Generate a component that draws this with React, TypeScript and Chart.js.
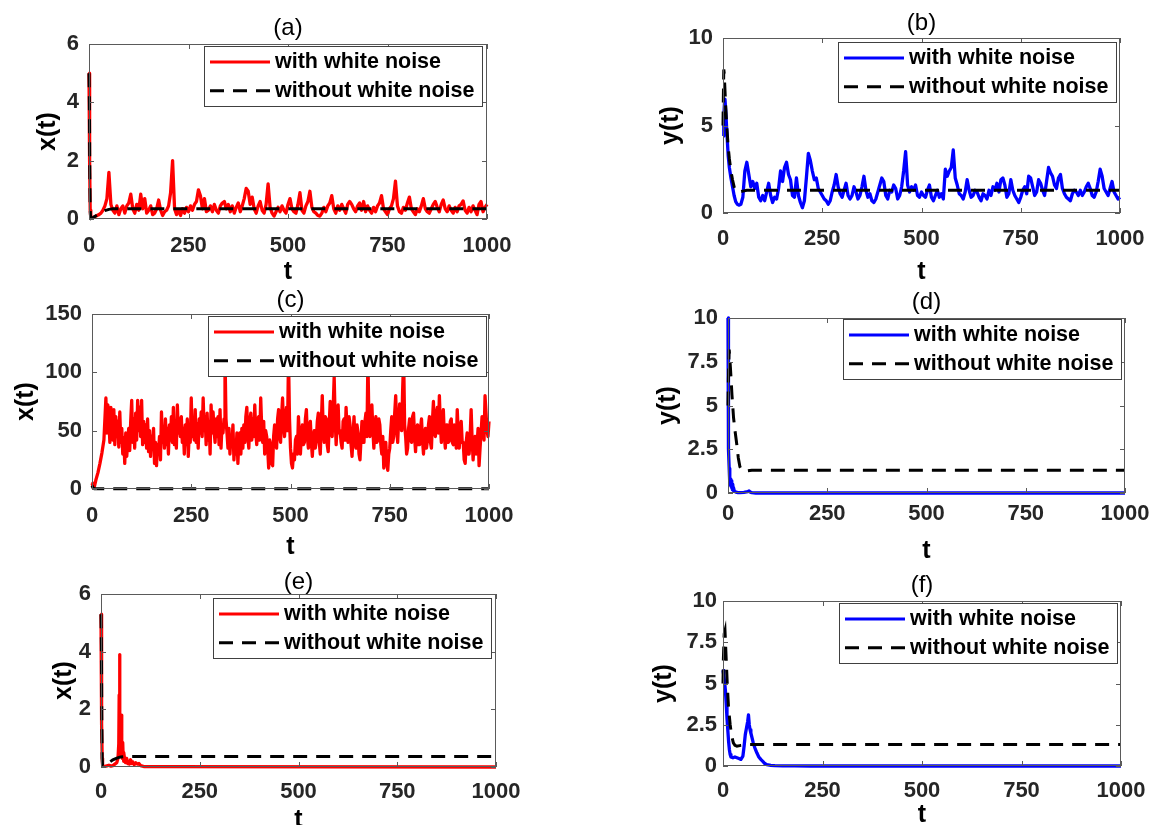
import React, { useEffect, useRef } from 'react';
import { Chart, registerables } from 'chart.js';

Chart.register(...registerables);

const FONT_FAMILY = '"Liberation Sans", Arial, Helvetica, sans-serif';

// ---------- shared labels ----------
const X_TICKS = [0, 250, 500, 750, 1000];
const LEGEND_LABELS = ['with white noise', 'without white noise'];
const PANEL_TITLES = ['(a)', '(b)', '(c)', '(d)', '(e)', '(f)'];
const Y_LABELS = ['x(t)', 'y(t)', 'x(t)', 'y(t)', 'x(t)', 'y(t)'];
const X_LABEL = 't';

const Y_TICKS_A = [0, 2, 4, 6];
const Y_TICKS_B = [0, 5, 10];
const Y_TICKS_C = [0, 50, 100, 150];
const Y_TICKS_D = [0, 2.5, 5, 7.5, 10];
const Y_TICKS_E = [0, 2, 4, 6];
const Y_TICKS_F = [0, 2.5, 5, 7.5, 10];

// ---------- panel (a) ----------
const A_DET_T = [0, 1, 2, 3, 4, 5, 10, 20, 30, 40, 50, 60, 1000];
const A_DET_V = [5.0, 4.0, 1.6, 0.3, 0.05, 0.02, 0.05, 0.13, 0.22, 0.29, 0.33, 0.35, 0.35];
const A_NOISE_HEAD_T = [0, 1, 2, 3, 4, 5];
const A_NOISE_HEAD_V = [5.0, 4.6, 2.0, 0.3, 0.05, 0.03];
const A_NOISE_BODY_START = 10;
const A_NOISE_BODY_STEP = 5;
const A_NOISE_BODY_V = [
  0.05, 0.08, 0.12, 0.15, 0.2, 0.3, 0.45, 0.7, 1.6, 0.5,
  0.3, 0.2, 0.45, 0.15, 0.35, 0.45, 0.2, 0.45, 0.55, 0.85,
  0.35, 0.2, 0.5, 0.3, 0.85, 0.35, 0.7, 0.2, 0.3, 0.45,
  0.15, 0.2, 0.35, 0.65, 0.3, 0.12, 0.25, 0.3, 0.45, 0.9,
  2.0, 0.35, 0.15, 0.3, 0.12, 0.35, 0.2, 0.4, 0.25, 0.45,
  0.3, 0.5, 0.6, 1.0, 0.8, 0.35, 0.7, 0.25, 0.3, 0.45,
  0.25, 0.5, 0.3, 0.2, 0.45, 0.55, 0.6, 0.35, 0.5, 0.25,
  0.45, 0.2, 0.4, 0.55, 0.25, 0.45, 0.7, 1.05, 0.95, 0.5,
  0.75, 0.35, 0.2, 0.45, 0.6, 0.3, 0.2, 0.5, 1.2, 0.4,
  0.2, 0.1, 0.25, 0.4, 0.25, 0.45, 0.3, 0.2, 0.5, 0.7,
  0.35, 0.25, 0.2, 0.5, 0.9, 0.3, 0.2, 0.45, 0.6, 0.95,
  0.4, 0.25, 0.2, 0.12, 0.1, 0.2, 0.4, 0.25, 0.45, 0.55,
  0.8, 0.35, 0.2, 0.45, 0.3, 0.5, 0.35, 0.2, 0.5, 0.6,
  0.5, 0.35, 0.25, 0.45, 0.55, 0.3, 0.6, 0.25, 0.45, 0.3,
  0.2, 0.4, 0.25, 0.45, 0.55, 0.8, 0.35, 0.25, 0.15, 0.35,
  0.45, 0.7, 1.3, 0.45, 0.25, 0.2, 0.4, 0.3, 0.55, 0.75,
  0.35, 0.25, 0.15, 0.35, 0.25, 0.45, 0.7, 0.35, 0.25, 0.2,
  0.35, 0.5, 0.6, 0.4, 0.25, 0.5, 0.65, 0.35, 0.25, 0.45,
  0.3, 0.2, 0.4, 0.25, 0.45, 0.5, 0.62, 0.3, 0.2, 0.4,
  0.25, 0.45, 0.3, 0.15, 0.5, 0.6, 0.25, 0.4, 0.5,
];

// ---------- panel (b) ----------
const B_DET_T = [0, 1, 2, 3, 5, 7, 10, 13, 16, 20, 24, 28, 32, 36, 40, 50, 60, 1000];
const B_DET_V = [5.0, 6.8, 8.2, 8.0, 7.0, 6.0, 4.8, 3.8, 3.1, 2.4, 1.9, 1.5, 1.3, 1.2, 1.2, 1.25, 1.3, 1.3];
const B_NOISE_HEAD_T = [0, 2, 4, 5, 7, 10, 13, 16, 20, 24, 28, 32, 36, 40, 45, 50];
const B_NOISE_HEAD_V = [4.4, 5.5, 6.4, 6.5, 5.8, 4.5, 3.3, 2.6, 2.0, 1.5, 1.0, 0.65, 0.5, 0.45, 0.5, 0.9];
const B_NOISE_BODY_START = 55;
const B_NOISE_BODY_STEP = 5;
const B_NOISE_BODY_V = [
  2.4, 2.9, 2.2, 1.5, 1.8, 1.4, 1.7, 0.9, 0.7, 1.0,
  0.7, 1.2, 1.7, 1.0, 0.6, 0.9, 0.8, 1.4, 2.4, 1.8,
  2.6, 2.9, 2.2, 1.9, 1.0, 0.9, 2.0, 1.0, 0.6, 0.3,
  0.7, 2.0, 3.4, 3.0, 2.4, 1.9, 2.0, 1.4, 1.2, 1.0,
  0.8, 0.7, 0.5, 0.7, 1.2, 1.6, 2.2, 1.5, 1.1, 0.9,
  1.3, 1.7, 1.0, 0.8, 1.0, 1.5, 1.2, 0.8, 1.0, 1.5,
  2.1, 1.3, 0.9, 1.1, 0.7, 0.6, 0.8, 1.2, 1.6, 2.0,
  1.8, 1.0, 0.8, 1.3, 1.2, 1.6, 1.4, 0.8, 1.0, 1.5,
  2.4, 3.5, 1.6, 1.2, 1.5, 1.3, 1.6, 1.0, 0.9, 1.2,
  1.0, 0.9, 1.3, 1.6, 0.9, 0.7, 1.0, 1.3, 0.9, 1.1,
  0.8, 2.5, 2.1, 2.4, 2.6, 3.6, 2.0, 1.6, 1.1, 1.0,
  0.8, 1.2, 1.9, 1.3, 0.9, 1.0, 1.3, 1.2, 0.9, 0.7,
  1.1, 1.0, 0.8, 1.3, 1.0, 1.5, 1.3, 1.7, 1.2, 1.9,
  2.0, 1.6, 0.9, 1.1, 1.9, 1.3, 1.0, 0.8, 0.6, 0.9,
  1.3, 1.5, 1.1, 2.1, 2.0, 1.5, 1.0, 1.2, 1.9, 1.7,
  1.3, 1.0, 1.8, 2.6, 2.3, 2.1, 1.6, 1.4, 2.0, 2.2,
  1.4, 1.1, 0.9, 0.8, 0.7, 1.1, 1.3, 1.2, 1.0, 1.3,
  1.0, 1.2, 1.5, 1.7, 1.4, 1.0, 0.9, 1.2, 1.8, 2.5,
  2.1, 1.4, 1.2, 1.0, 1.4, 1.8, 1.2, 1.0, 0.8, 0.9,
];

// ---------- panel (c) ----------
const C_DET_T = [0, 3, 6, 1000];
const C_DET_V = [3, 0.8, 0.3, 0.3];
const C_NOISE_HEAD_T = [0, 2, 4, 6, 10, 15, 20, 25, 30];
const C_NOISE_HEAD_V = [5, 3, 0.5, 2, 8, 14, 22, 31, 42];
const C_NOISE_BODY_START = 35;
const C_NOISE_BODY_STEP = 2.5;
const C_NOISE_BODY_V = [
  78, 48, 72, 60, 40, 70, 55, 42, 68, 38,
  62, 45, 58, 36, 66, 40, 52, 30, 44, 22,
  48, 28, 40, 52, 33, 58, 76, 40, 60, 35,
  65, 42, 76, 50, 70, 45, 76, 38, 58, 40,
  55, 35, 60, 32, 50, 28, 45, 35, 52, 22,
  40, 20, 38, 30, 45, 25, 66, 40, 50, 35,
  60, 38, 52, 30, 55, 42, 62, 40, 70, 38,
  58, 35, 72, 48, 60, 45, 62, 40, 52, 30,
  55, 38, 60, 28, 48, 40, 78, 45, 60, 42,
  68, 40, 56, 35, 60, 48, 66, 45, 78, 50,
  62, 38, 65, 42, 58, 30, 72, 48, 66, 50,
  40, 60, 45, 62, 38, 68, 35, 55, 48, 60,
  115, 60, 48, 35, 52, 30, 45, 38, 55, 25,
  40, 30, 48, 22, 42, 48, 30, 52, 35, 55,
  40, 62, 70, 45, 35, 58, 65, 42, 60, 45,
  72, 48, 38, 60, 62, 42, 78, 52, 40, 58,
  30, 50, 45, 35, 18, 42, 38, 22, 20, 45,
  55, 38, 35, 60, 68, 45, 40, 62, 78, 55,
  45, 62, 70, 50, 112, 60, 35, 22, 18, 30,
  25, 42, 45, 30, 62, 45, 30, 48, 55, 38,
  40, 60, 68, 45, 35, 55, 58, 40, 28, 45,
  50, 35, 42, 58, 65, 40, 30, 55, 80, 50,
  40, 62, 60, 38, 32, 55, 75, 48, 45, 70,
  96, 60, 38, 55, 72, 48, 50, 40, 35, 58,
  60, 42, 70, 50, 40, 62, 55, 38, 28, 45,
  62, 40, 35, 55, 48, 30, 25, 42, 58, 40,
  40, 58, 65, 45, 110, 60, 45, 62, 72, 50,
  35, 55, 62, 40, 42, 60, 55, 38, 30, 45,
  18, 35, 40, 22, 16, 30, 35, 50, 62, 40,
  45, 65, 80, 52, 40, 60, 73, 55, 50, 85,
  112, 55, 45, 30, 35, 52, 60, 42, 40, 62,
  65, 45, 32, 50, 55, 38, 38, 52, 60, 42,
  30, 48, 52, 35, 42, 55, 62, 40, 35, 58,
  75, 50, 45, 65, 70, 48, 80, 55, 40, 62,
  68, 45, 35, 55, 55, 40, 42, 58, 60, 40,
  38, 55, 50, 35, 68, 48, 35, 50, 58, 40,
  40, 25, 22, 40, 48, 30, 30, 45, 68, 42,
  25, 40, 45, 30, 38, 52, 20, 35, 48, 62,
  60, 42, 80, 65, 50, 45, 58,
];

// ---------- panel (d) ----------
const D_DET_T = [0, 1, 3, 6, 10, 14, 18, 22, 26, 30, 35, 45, 60, 1000];
const D_DET_V = [5.0, 6.5, 8.2, 7.2, 5.6, 4.3, 3.5, 2.8, 2.0, 1.5, 1.3, 1.25, 1.3, 1.3];
const D_NOISE_T = [0, 0.5, 1, 2, 3, 4, 5, 6, 7, 8, 9, 10, 11, 12, 13, 14, 16, 20, 25, 30, 40, 50, 53, 56, 60, 70, 1000];
const D_NOISE_V = [10, 8, 5, 2.5, 1.4, 0.8, 0.5, 0.8, 0.4, 0.7, 0.3, 0.6, 0.2, 0.5, 0.15, 0.3, 0.1, 0.05, 0.02, 0.02, 0.04, 0.08, 0.12, 0.05, 0.02, 0, 0];

// ---------- panel (e) ----------
const E_DET_T = [0, 1, 2, 3, 4, 6, 10, 20, 30, 40, 50, 60, 1000];
const E_DET_V = [5.3, 4.2, 1.8, 0.3, 0.05, 0.02, 0.05, 0.15, 0.25, 0.31, 0.35, 0.36, 0.36];
const E_NOISE_T = [
  0, 1, 2, 3, 4, 6, 10, 15, 20, 25, 30, 35, 40, 43, 45, 46, 47, 48, 50, 51,
  52, 53, 54, 55, 56, 57, 58, 60, 62, 65, 68, 70, 72, 75, 78, 80, 84, 88, 92, 96,
  100, 105, 110, 1000,
];
const E_NOISE_V = [
  5.3, 4.0, 1.5, 0.3, 0.06, 0.03, 0.02, 0.04, 0.06, 0.03, 0.05, 0.1, 0.15, 0.3, 0.8, 2.5, 3.9, 1.2, 0.4, 0.9,
  1.8, 0.6, 0.3, 0.85, 0.4, 0.2, 0.5, 0.25, 0.15, 0.3, 0.12, 0.2, 0.1, 0.25, 0.12, 0.18, 0.08, 0.15, 0.1, 0.12,
  0.05, 0.03, 0.01, 0,
];

// ---------- panel (f) ----------
const F_DET_T = [0, 1, 3, 5, 8, 11, 14, 18, 22, 26, 30, 35, 45, 60, 1000];
const F_DET_V = [5.0, 6.5, 8.0, 8.2, 6.5, 4.8, 3.5, 2.5, 1.8, 1.4, 1.25, 1.2, 1.25, 1.3, 1.3];
const F_NOISE_T = [
  0, 2, 4, 6, 8, 10, 12, 14, 16, 18, 20, 25, 30, 35, 40, 45, 50, 53, 56, 59,
  62, 64, 66, 68, 70, 73, 76, 80, 85, 90, 95, 100, 105, 110, 120, 130, 150, 180, 220, 1000,
];
const F_NOISE_V = [
  5.8, 5.5, 5.1, 4.6, 3.8, 2.9, 2.2, 1.5, 1.0, 0.7, 0.55, 0.5, 0.55, 0.5, 0.45, 0.4, 0.6, 1.2, 1.9, 2.3,
  2.7, 3.1, 2.5, 2.2, 2.0, 1.7, 1.4, 1.1, 0.8, 0.55, 0.4, 0.28, 0.15, 0.08, 0.04, 0.02, 0.01, 0.005, 0, 0,
];

// ---------- helpers ----------
type Pt = { x: number; y: number };
const pairs = (t: number[], v: number[]): Pt[] => t.map((x, i) => ({ x, y: v[i] }));
const stepTimes = (start: number, step: number, n: number) =>
  Array.from({ length: n }, (_, i) => start + i * step);
const withBody = (headT: number[], headV: number[], start: number, step: number, bodyV: number[]): Pt[] =>
  pairs(headT, headV).concat(pairs(stepTimes(start, step, bodyV.length), bodyV));

// ---------- layout (positions only) ----------
type Layout = {
  canvasLeft: number; canvasTop: number; plotRight: number; plotBottom: number;
  wy: number; hx: number; titlePb: number; yTickPad: number; xTickPad: number;
  legendInset: [number, number];
};
const RPAD = 44;
const LAYOUTS: Layout[] = [
  { canvasLeft: 36, canvasTop: 16, plotRight: 487, plotBottom: 219, wy: 53, hx: 66, titlePb: 4, yTickPad: 10, xTickPad: 16, legendInset: [4, 2] },
  { canvasLeft: 659, canvasTop: 11, plotRight: 1120, plotBottom: 213, wy: 64, hx: 72, titlePb: 3, yTickPad: 10, xTickPad: 15, legendInset: [3, 4] },
  { canvasLeft: 14, canvasTop: 288, plotRight: 489, plotBottom: 489, wy: 78, hx: 71, titlePb: 2, yTickPad: 10, xTickPad: 16, legendInset: [2, 2] },
  { canvasLeft: 656, canvasTop: 290, plotRight: 1125, plotBottom: 493, wy: 72, hx: 71, titlePb: 4, yTickPad: 10, xTickPad: 10, legendInset: [3, 1] },
  { canvasLeft: 52, canvasTop: 570, plotRight: 496, plotBottom: 767, wy: 49, hx: 66, titlePb: 0, yTickPad: 10, xTickPad: 14, legendInset: [4, 4] },
  { canvasLeft: 652, canvasTop: 573, plotRight: 1121, plotBottom: 766, wy: 71, hx: 62, titlePb: 4, yTickPad: 6, xTickPad: 14, legendInset: [3, 2] },
];

type PanelData = { color: string; yMax: number; yTicks: number[]; noise: Pt[]; det: Pt[] };
const PANEL_DATA: PanelData[] = [
  { color: '#ff0000', yMax: 6, yTicks: Y_TICKS_A, noise: withBody(A_NOISE_HEAD_T, A_NOISE_HEAD_V, A_NOISE_BODY_START, A_NOISE_BODY_STEP, A_NOISE_BODY_V), det: pairs(A_DET_T, A_DET_V) },
  { color: '#0000ff', yMax: 10, yTicks: Y_TICKS_B, noise: withBody(B_NOISE_HEAD_T, B_NOISE_HEAD_V, B_NOISE_BODY_START, B_NOISE_BODY_STEP, B_NOISE_BODY_V), det: pairs(B_DET_T, B_DET_V) },
  { color: '#ff0000', yMax: 150, yTicks: Y_TICKS_C, noise: withBody(C_NOISE_HEAD_T, C_NOISE_HEAD_V, C_NOISE_BODY_START, C_NOISE_BODY_STEP, C_NOISE_BODY_V), det: pairs(C_DET_T, C_DET_V) },
  { color: '#0000ff', yMax: 10, yTicks: Y_TICKS_D, noise: pairs(D_NOISE_T, D_NOISE_V), det: pairs(D_DET_T, D_DET_V) },
  { color: '#ff0000', yMax: 6, yTicks: Y_TICKS_E, noise: pairs(E_NOISE_T, E_NOISE_V), det: pairs(E_DET_T, E_DET_V) },
  { color: '#0000ff', yMax: 10, yTicks: Y_TICKS_F, noise: pairs(F_NOISE_T, F_NOISE_V), det: pairs(F_DET_T, F_DET_V) },
];

// ---------- plugins ----------
const frameTicksPlugin = {
  id: 'frameTicks',
  afterDatasetsDraw(chart: any) {
    const { ctx, chartArea } = chart;
    const { left, right, top, bottom } = chartArea;
    const xs = chart.scales.x;
    const ys = chart.scales.y;
    const len = 5;
    ctx.save();
    ctx.strokeStyle = '#5a5a5a';
    ctx.lineWidth = 1;
    ctx.strokeRect(Math.round(left) + 0.5, Math.round(top) + 0.5, Math.round(right - left) - 1, Math.round(bottom - top) - 1);
    ctx.beginPath();
    xs.ticks.forEach((t: any) => {
      const px = Math.round(xs.getPixelForValue(t.value)) + 0.5;
      ctx.moveTo(px, bottom); ctx.lineTo(px, bottom - len);
      ctx.moveTo(px, top); ctx.lineTo(px, top + len);
    });
    ys.ticks.forEach((t: any) => {
      const py = Math.round(ys.getPixelForValue(t.value)) + 0.5;
      ctx.moveTo(left, py); ctx.lineTo(left + len, py);
      ctx.moveTo(right, py); ctx.lineTo(right - len, py);
    });
    ctx.stroke();
    ctx.restore();
  },
};

const boxLegendPlugin = {
  id: 'boxLegend',
  afterDraw(chart: any, _args: any, opts: any) {
    const { ctx, chartArea } = chart;
    const w = 279;
    const h = 61;
    const x0 = Math.round(chartArea.right - opts.inset[0] - w);
    const y0 = Math.round(chartArea.top + opts.inset[1]);
    ctx.save();
    ctx.fillStyle = '#ffffff';
    ctx.fillRect(x0, y0, w, h);
    ctx.strokeStyle = '#404040';
    ctx.lineWidth = 1;
    ctx.strokeRect(x0 + 0.5, y0 + 0.5, w - 1, h - 1);
    const order = [1, 0];
    order.forEach((dsIndex, i) => {
      const ds = chart.data.datasets[dsIndex];
      const y = y0 + 16 + i * 28.7;
      ctx.beginPath();
      ctx.setLineDash(ds.borderDash || []);
      ctx.strokeStyle = ds.borderColor;
      ctx.lineWidth = 3;
      ctx.moveTo(x0 + 6, y);
      ctx.lineTo(x0 + 66, y);
      ctx.stroke();
      ctx.setLineDash([]);
      ctx.fillStyle = '#000000';
      ctx.font = `bold 21.5px ${FONT_FAMILY}`;
      ctx.textBaseline = 'middle';
      ctx.textAlign = 'left';
      ctx.fillText(ds.label, x0 + 71, y);
    });
    ctx.restore();
  },
};

function Panel({ index }: { index: number }) {
  const ref = useRef<HTMLCanvasElement | null>(null);
  const L = LAYOUTS[index];
  const D = PANEL_DATA[index];
  const width = L.plotRight + RPAD - L.canvasLeft;
  const height = L.plotBottom + L.hx - L.canvasTop;

  useEffect(() => {
    if (!ref.current) return;
    const tickFont = { family: FONT_FAMILY, size: 22, weight: 'bold' as const, lineHeight: 1 };
    const axisTitleFont = { family: FONT_FAMILY, size: 25, weight: 'bold' as const, lineHeight: 1 };
    const chart = new Chart(ref.current, {
      type: 'line',
      data: {
        datasets: [
          {
            label: LEGEND_LABELS[1],
            data: D.det,
            borderColor: '#000000',
            borderWidth: 3,
            borderDash: [14, 9],
            pointRadius: 0,
            tension: 0,
            fill: false,
            clip: 6,
          },
          {
            label: LEGEND_LABELS[0],
            data: D.noise,
            borderColor: D.color,
            borderWidth: 3.3,
            borderJoinStyle: 'round',
            pointRadius: 0,
            tension: 0,
            fill: false,
            clip: 6,
          },
        ],
      },
      options: {
        responsive: false,
        animation: false,
        events: [],
        layout: { padding: { left: 0, top: 0, right: RPAD, bottom: 0 } },
        plugins: {
          legend: { display: false },
          tooltip: { enabled: false },
          title: {
            display: true,
            text: PANEL_TITLES[index],
            fullSize: false,
            color: '#000000',
            font: { family: FONT_FAMILY, size: 24, weight: 'normal', lineHeight: 1 },
            padding: { top: 0, bottom: L.titlePb },
          },
          boxLegend: { inset: L.legendInset },
        } as any,
        scales: {
          x: {
            type: 'linear',
            min: 0,
            max: 1000,
            afterBuildTicks: (s: any) => { s.ticks = X_TICKS.map((v) => ({ value: v })); },
            afterFit: (s: any) => { s.height = L.hx; },
            grid: { display: false, drawTicks: false },
            border: { display: false },
            ticks: {
              font: tickFont,
              color: '#262626',
              padding: L.xTickPad,
              maxRotation: 0,
              autoSkip: false,
              callback: (v: any) => String(v),
            },
            title: { display: true, text: X_LABEL, color: '#000000', font: axisTitleFont, padding: { top: 0, bottom: 0 } },
          },
          y: {
            type: 'linear',
            min: 0,
            max: D.yMax,
            afterBuildTicks: (s: any) => { s.ticks = D.yTicks.map((v) => ({ value: v })); },
            afterFit: (s: any) => { s.width = L.wy; },
            grid: { display: false, drawTicks: false },
            border: { display: false },
            ticks: {
              font: tickFont,
              color: '#262626',
              padding: L.yTickPad,
              autoSkip: false,
              callback: (v: any) => String(v),
            },
            title: { display: true, text: Y_LABELS[index], color: '#000000', font: axisTitleFont, padding: { top: 0, bottom: 0 } },
          },
        },
      } as any,
      plugins: [frameTicksPlugin, boxLegendPlugin],
    });
    return () => chart.destroy();
  }, [index]);

  return (
    <canvas
      ref={ref}
      width={width}
      height={height}
      style={{ position: 'absolute', left: L.canvasLeft, top: L.canvasTop, width, height }}
    />
  );
}

export default function App() {
  return (
    <div
      style={{
        position: 'fixed',
        left: 0,
        top: 0,
        width: 1157,
        height: 825,
        overflow: 'hidden',
        background: '#ffffff',
      }}
    >
      {PANEL_TITLES.map((_, i) => (
        <Panel key={i} index={i} />
      ))}
    </div>
  );
}
